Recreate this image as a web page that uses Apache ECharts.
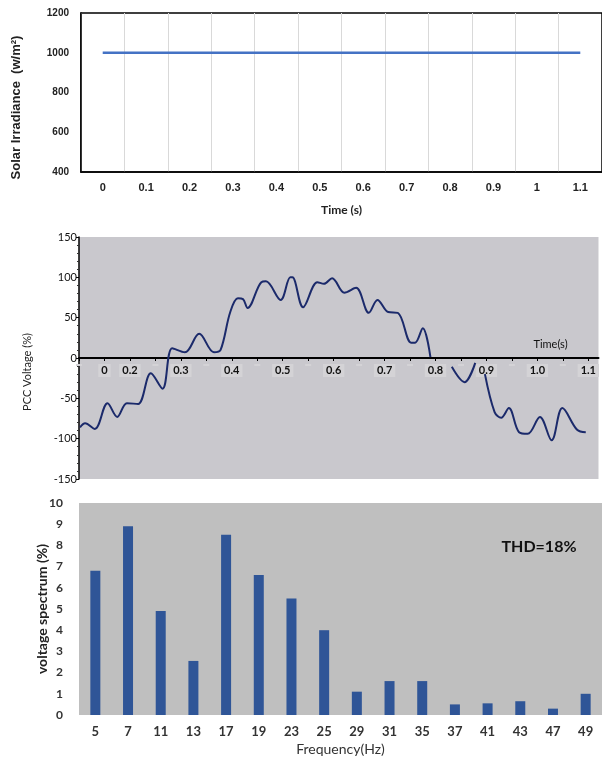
<!DOCTYPE html>
<html>
<head>
<meta charset="utf-8">
<script src="https://cdn.jsdelivr.net/npm/echarts@6/dist/echarts.min.js"></script>
<style>
  html, body { margin: 0; padding: 0; background: #fff; }
  #main { width: 602px; height: 757px; }
</style>
</head>
<body>
<div id="main"></div>
<script>
// top: solar irradiance
const irrTime = ['0', '0.1', '0.2', '0.3', '0.4', '0.5', '0.6', '0.7', '0.8', '0.9', '1', '1.1'];
const irradiance = [1000, 1000, 1000, 1000, 1000, 1000, 1000, 1000, 1000, 1000, 1000, 1000];

// middle: PCC voltage waveform (null = break in the trace)
const pccTime = [0.102, 0.112, 0.131, 0.156, 0.175, 0.194, 0.216, 0.241, 0.264, 0.283,
  0.308, 0.336, 0.365, 0.378, 0.397, 0.412, 0.422, 0.431, 0.458, 0.467,
  0.496, 0.515, 0.519, 0.540, 0.568, 0.581, 0.597, 0.621, 0.644, 0.669,
  0.686, 0.707, 0.726, 0.752, 0.760, 0.775, 0.790, 0.800, 0.832, 0.857,
  0.878, 0.888, 0.897, 0.916, 0.929, 0.944, 0.964, 0.981, 1.005, 1.028,
  1.049, 1.078, 1.095];
const pccVoltage = [-86, -81, -88, -56, -73, -56, -57, -19, -38, 12,
  7, 30, 7, 10, 57, 74, 73, 62, 94, 95,
  72, 100, 100, 63, 94, 92, 99, 81, 87, 56,
  72, 57, 56, 19, 19, 37, 1, null, -11, -30,
  -6, null, -20, -67, -74, -62, -92, -94, -73, -102,
  -62, -89, -92];

// bottom: harmonic spectrum
const harmonicOrder = ['5', '7', '11', '13', '17', '19', '23', '25', '29', '31', '35', '37', '41', '43', '47', '49'];
const spectrum = [6.8, 8.9, 4.9, 2.55, 8.5, 6.6, 5.5, 4.0, 1.1, 1.6, 1.6, 0.5, 0.55, 0.65, 0.3, 1.0];

const myChart = echarts.init(document.getElementById('main'));

const pccData = pccTime.map((t, i) => [t, pccVoltage[i] === null ? '-' : pccVoltage[i]]);

const midLabel = (v) => {
    const r = Math.round(v * 100) / 100;
    if (Math.abs(r - 0.15) < 1e-6) return '0';
    if (r >= 0.2 && r <= 1.1 && Math.abs(r * 10 - Math.round(r * 10)) < 1e-6) return r.toFixed(1);
    return '';
};

myChart.setOption({
    animation: false,
    textStyle: { fontFamily: 'Lato, "Liberation Sans", sans-serif' },
    grid: [
        { left: 81, right: -2, top: 13, height: 159, show: true, borderColor: '#000', borderWidth: 1.5, backgroundColor: '#fff' },
        { left: 79, right: -14, top: 237, height: 242, show: true, borderWidth: 0, backgroundColor: '#c9c8cd' },
        { left: 79, right: -3, top: 503, height: 216, show: true, borderWidth: 0, backgroundColor: '#bfbfbf' }
    ],
    xAxis: [
        {
            gridIndex: 0,
            type: 'category',
            data: irrTime,
            boundaryGap: true,
            axisLine: { lineStyle: { color: '#000', width: 1.5 } },
            axisTick: { show: false },
            splitLine: { show: true, lineStyle: { color: '#d9d9d9' } },
            axisLabel: { color: '#222', fontWeight: 'bold', fontSize: 11, fontFamily: '"Liberation Sans", Arial', margin: 10 },
            name: 'Time (s)',
            nameLocation: 'middle',
            nameGap: 32,
            nameTextStyle: { color: '#222', fontSize: 12, fontWeight: 'bold' }
        },
        {
            gridIndex: 1,
            type: 'value',
            min: 0.1,
            max: 1.12,
            interval: 0.05,
            offset: -121,
            axisLine: { onZero: false, lineStyle: { color: '#000', width: 2 } },
            axisTick: { show: true, length: 3, lineStyle: { color: '#000' } },
            splitLine: { show: false },
            axisLabel: {
                formatter: midLabel,
                color: '#111',
                fontWeight: 'bold',
                fontSize: 11,
                margin: 6,
                backgroundColor: '#d4d3d6',
                padding: [1, 3]
            },
            name: 'Time(s)',
            nameLocation: 'end',
            nameGap: -48,
            nameTextStyle: { color: '#111', fontSize: 11, align: 'center', verticalAlign: 'bottom', padding: [0, 0, 8, 0] }
        },
        {
            gridIndex: 2,
            type: 'category',
            data: harmonicOrder,
            axisLine: { show: false },
            axisTick: { show: false },
            axisLabel: { color: '#333', fontSize: 13, fontWeight: 'bold', margin: 10 },
            name: 'Frequency(Hz)',
            nameLocation: 'middle',
            nameGap: 27,
            nameTextStyle: { color: '#333', fontSize: 14 }
        }
    ],
    yAxis: [
        {
            gridIndex: 0,
            type: 'value',
            min: 400,
            max: 1200,
            interval: 200,
            axisLine: { show: true, lineStyle: { color: '#000', width: 1.5 } },
            axisTick: { show: false },
            splitLine: { show: false },
            axisLabel: { formatter: (v) => String(v), color: '#222', fontWeight: 'bold', fontSize: 10, fontFamily: '"Liberation Sans", Arial', margin: 12 },
            name: 'Solar Irradiance  (w/m²)',
            nameLocation: 'middle',
            nameGap: 58,
            nameTextStyle: { color: '#222', fontSize: 13, fontWeight: 'bold', fontFamily: '"Liberation Sans", Arial', padding: [0, 30, 0, 0] }
        },
        {
            gridIndex: 1,
            type: 'value',
            min: -150,
            max: 150,
            interval: 50,
            axisLine: { show: true, onZero: false, lineStyle: { color: '#000', width: 1.5 } },
            axisTick: { show: true, length: 3, lineStyle: { color: '#000' } },
            minorTick: { show: true, splitNumber: 5, length: 2, lineStyle: { color: '#333' } },
            splitLine: { show: false },
            axisLabel: { color: '#111', fontSize: 11, margin: 2 },
            name: 'PCC Voltage (%)',
            nameLocation: 'middle',
            nameGap: 46,
            nameTextStyle: { color: '#222', fontSize: 11, padding: [0, 28, 0, 0] }
        },
        {
            gridIndex: 2,
            type: 'value',
            min: 0,
            max: 10,
            interval: 1,
            axisLine: { show: false },
            axisTick: { show: false },
            splitLine: { show: false },
            axisLabel: { color: '#333', fontSize: 12, fontWeight: 'bold', margin: 16 },
            name: 'voltage spectrum (%)',
            nameLocation: 'middle',
            nameGap: 30,
            nameMoveOverlap: false,
            nameTextStyle: { color: '#222', fontSize: 14, fontWeight: 'bold' }
        }
    ],
    graphic: [
        {
            type: 'text',
            x: 539,
            y: 547,
            style: { text: 'THD=18%', fill: '#111', font: 'bold 16px Lato, "Liberation Sans", sans-serif', align: 'center', verticalAlign: 'middle' }
        }
    ],
    series: [
        {
            type: 'line',
            xAxisIndex: 0,
            yAxisIndex: 0,
            data: irradiance,
            symbol: 'none',
            lineStyle: { color: '#4472c4', width: 2.5 }
        },
        {
            type: 'line',
            xAxisIndex: 1,
            yAxisIndex: 1,
            data: pccData,
            symbol: 'none',
            smooth: 0.35,
            connectNulls: false,
            lineStyle: { color: '#1b2a6b', width: 2 }
        },
        {
            type: 'bar',
            xAxisIndex: 2,
            yAxisIndex: 2,
            data: spectrum,
            barWidth: 10,
            itemStyle: { color: '#2f5597' }
        }
    ]
});
</script>
</body>
</html>
